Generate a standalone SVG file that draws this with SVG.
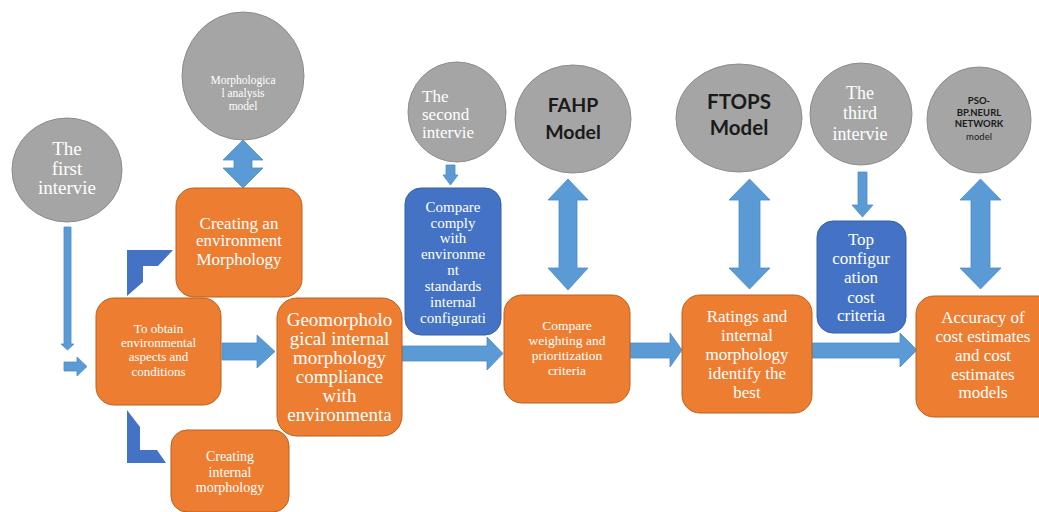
<svg xmlns="http://www.w3.org/2000/svg" width="1039" height="512" viewBox="0 0 1039 512">
  <style>
    .box { fill: #ED7D31; stroke: #B8611F; stroke-width: 1; }
    .bbox { fill: #4472C4; stroke: #3560A8; stroke-width: 1; }
    .circ { fill: #A5A5A5; stroke: #8C8C8C; stroke-width: 1; }
    .arr { fill: #5B9BD5; stroke: #4D8CC6; stroke-width: 0.8; }
    .frame { fill: #4472C4; }
    .t { font-family: "Liberation Serif", "Times New Roman", serif; fill: #FFFFFF; text-anchor: middle; }
    .b { font-family: Lato, "Liberation Sans", sans-serif; font-weight: bold; fill: #1A1A1A; text-anchor: middle; }
  </style>
  <rect width="1039" height="512" fill="#FFFFFF"/>

  <!-- connectors -->
  <g id="connectors">
    <path class="arr" d="M243,140 L263,160 L252,160 L252,168 L263,168 L243,188 L223,168 L234,168 L234,160 L223,160 Z"/>
    <path class="arr" d="M568,179 L588,200 L577,200 L577,268 L588,268 L568,290 L548,268 L559,268 L559,200 L548,200 Z"/>
    <path class="arr" d="M749.5,179 L770,200 L760,200 L760,268 L770,268 L749.5,289 L729,268 L739,268 L739,200 L729,200 Z"/>
    <path class="arr" d="M980.5,179 L1001,200 L990,200 L990,268 L1001,268 L980.5,289 L960,268 L971,268 L971,200 L960,200 Z"/>
    <path class="arr" d="M64,227 L71,227 L71,344 L74,344 L67.5,350 L61,344 L64,344 Z"/>
    <path class="arr" d="M446,165 L455,165 L455,175 L458,175 L450.5,185 L443,175 L446,175 Z"/>
    <path class="arr" d="M858,172 L867,172 L867,205 L873,205 L862.5,217 L852,205 L858,205 Z"/>
    <path class="arr" d="M64,362 L77,362 L77,357 L87,366.5 L77,376 L77,371 L64,371 Z"/>
    <path class="arr" d="M222,343 L257,343 L257,335 L275,351.5 L257,368 L257,360 L222,360 Z"/>
    <path class="arr" d="M402,346 L487,346 L487,337 L503,353.5 L487,370 L487,361 L402,361 Z"/>
    <path class="arr" d="M630,343 L670,343 L670,333 L682,350 L670,367 L670,358 L630,358 Z"/>
    <path class="arr" d="M812,343 L900,343 L900,333 L917,350 L900,367 L900,358 L812,358 Z"/>
    <path class="frame" d="M127,296 L127,250 L173,250 L158,266 L143,266 L143,282 Z"/>
    <path class="frame" d="M127,410 L140,427 L140,450 L157,450 L166,463 L127,463 Z"/>
  </g>

  <!-- interview and model circles -->
  <g id="first-interview">
    <ellipse class="circ" cx="67" cy="170" rx="55" ry="52"/>
    <text class="t" font-size="19"><tspan x="67" y="155">The</tspan><tspan x="67" y="175">first</tspan><tspan x="67" y="194">intervie</tspan></text>
  </g>
  <g id="morphological-model">
    <ellipse class="circ" cx="243" cy="76" rx="61" ry="64"/>
    <text class="t" font-size="11.5"><tspan x="243" y="84">Morphologica</tspan><tspan x="243" y="97">l analysis</tspan><tspan x="243" y="110">model</tspan></text>
  </g>
  <g id="second-interview">
    <ellipse class="circ" cx="457" cy="112" rx="49" ry="50"/>
    <text class="t" font-size="17" style="text-anchor:start"><tspan x="422" y="102">The</tspan><tspan x="422" y="120">second</tspan><tspan x="422" y="138">intervie</tspan></text>
  </g>
  <g id="fahp-model">
    <ellipse class="circ" cx="573" cy="119" rx="58" ry="54"/>
    <text class="b" font-size="19.5"><tspan x="573" y="112">FAHP</tspan><tspan x="573" y="139">Model</tspan></text>
  </g>
  <g id="ftops-model">
    <ellipse class="circ" cx="739" cy="118" rx="63" ry="54"/>
    <text class="b" font-size="20.5"><tspan x="739" y="109">FTOPS</tspan><tspan x="739" y="135">Model</tspan></text>
  </g>
  <g id="third-interview">
    <ellipse class="circ" cx="861" cy="114" rx="51" ry="51"/>
    <text class="t" font-size="18"><tspan x="860" y="99">The</tspan><tspan x="860" y="119">third</tspan><tspan x="860" y="140">intervie</tspan></text>
  </g>
  <g id="pso-model">
    <ellipse class="circ" cx="979" cy="120" rx="52" ry="53"/>
    <text class="b" font-size="9.5"><tspan x="979" y="104">PSO-</tspan><tspan x="979" y="116">BP.NEURL</tspan><tspan x="979" y="127">NETWORK</tspan><tspan x="979" y="140" font-weight="normal">model</tspan></text>
  </g>

  <!-- process boxes -->
  <g id="obtain-aspects">
    <rect class="box" x="96" y="298" width="125" height="107" rx="18"/>
    <text class="t" font-size="13"><tspan x="158.5" y="333">To obtain</tspan><tspan x="158.5" y="347">environmental</tspan><tspan x="158.5" y="361">aspects and</tspan><tspan x="158.5" y="376">conditions</tspan></text>
  </g>
  <g id="environment-morphology">
    <rect class="box" x="176" y="188" width="126" height="109" rx="18"/>
    <text class="t" font-size="17"><tspan x="239" y="229">Creating an</tspan><tspan x="239" y="246">environment</tspan><tspan x="239" y="265">Morphology</tspan></text>
  </g>
  <g id="internal-morphology">
    <rect class="box" x="171" y="430" width="118" height="82" rx="16"/>
    <text class="t" font-size="14"><tspan x="230" y="461">Creating</tspan><tspan x="230" y="477">internal</tspan><tspan x="230" y="492">morphology</tspan></text>
  </g>
  <g id="geomorphological-compliance">
    <rect class="box" x="277" y="298" width="125" height="138" rx="20"/>
    <text class="t" font-size="19"><tspan x="339.5" y="326">Geomorpholo</tspan><tspan x="339.5" y="345">gical internal</tspan><tspan x="339.5" y="364">morphology</tspan><tspan x="339.5" y="383">compliance</tspan><tspan x="339.5" y="402">with</tspan><tspan x="339.5" y="421">environmenta</tspan></text>
  </g>
  <g id="compare-comply">
    <rect class="bbox" x="405" y="188" width="96" height="147" rx="16"/>
    <text class="t" font-size="15"><tspan x="453" y="212">Compare</tspan><tspan x="453" y="228">comply</tspan><tspan x="453" y="243">with</tspan><tspan x="453" y="259">environme</tspan><tspan x="453" y="275">nt</tspan><tspan x="453" y="291">standards</tspan><tspan x="453" y="307">internal</tspan><tspan x="453" y="323">configurati</tspan></text>
  </g>
  <g id="compare-weighting">
    <rect class="box" x="504" y="295" width="126" height="108" rx="18"/>
    <text class="t" font-size="13.5"><tspan x="567" y="330">Compare</tspan><tspan x="567" y="345">weighting and</tspan><tspan x="567" y="360">prioritization</tspan><tspan x="567" y="375">criteria</tspan></text>
  </g>
  <g id="ratings">
    <rect class="box" x="682" y="295" width="130" height="118" rx="18"/>
    <text class="t" font-size="17"><tspan x="747" y="322">Ratings and</tspan><tspan x="747" y="341">internal</tspan><tspan x="747" y="360">morphology</tspan><tspan x="747" y="379">identify the</tspan><tspan x="747" y="398">best</tspan></text>
  </g>
  <g id="top-configuration">
    <rect class="bbox" x="817" y="221" width="89" height="112" rx="16"/>
    <text class="t" font-size="17"><tspan x="861" y="245">Top</tspan><tspan x="861" y="264">configur</tspan><tspan x="861" y="283">ation</tspan><tspan x="861" y="303">cost</tspan><tspan x="861" y="321">criteria</tspan></text>
  </g>
  <g id="accuracy">
    <rect class="box" x="916" y="296" width="140" height="121" rx="18"/>
    <text class="t" font-size="17"><tspan x="983" y="323">Accuracy of</tspan><tspan x="983" y="342">cost estimates</tspan><tspan x="983" y="361">and cost</tspan><tspan x="983" y="380">estimates</tspan><tspan x="983" y="398">models</tspan></text>
  </g>
</svg>
